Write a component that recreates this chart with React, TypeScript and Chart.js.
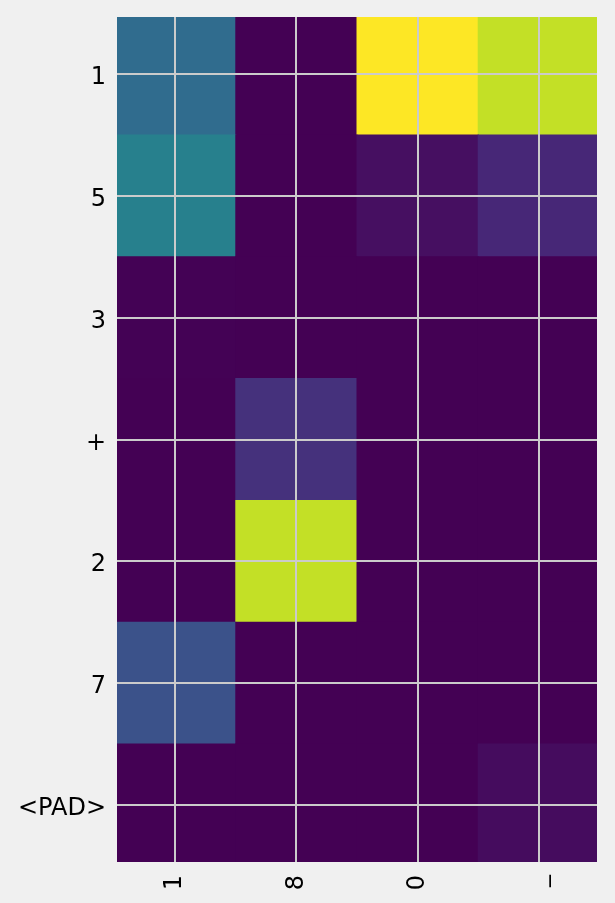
import React, { useEffect, useRef } from "react";
import { Chart, registerables } from "chart.js";

Chart.register(...registerables);

// Row (source) tokens and column (target) tokens
const rowLabels = ["1", "5", "3", "+", "2", "7", "<PAD>"];
const colLabels = ["1", "8", "0", "_"];

// Attention weights, one array per row
const row1 = [0.35, 0.0, 1.0, 0.91];
const row5 = [0.43, 0.0, 0.04, 0.11];
const row3 = [0.004, 0.0, 0.0, 0.0];
const rowPlus = [0.0, 0.14, 0.0, 0.0];
const row2 = [0.0, 0.91, 0.0, 0.0];
const row7 = [0.25, 0.0, 0.0, 0.0];
const rowPad = [0.0, 0.0, 0.0, 0.03];
const weights = [row1, row5, row3, rowPlus, row2, row7, rowPad];

const VIRIDIS = [
  "#440154", "#482475", "#414487", "#355f8d", "#2a788e", "#21918c",
  "#22a884", "#44bf70", "#7ad151", "#bddf26", "#fde725",
];

function hexToRgb(h: string) {
  return [1, 3, 5].map((i) => parseInt(h.slice(i, i + 2), 16));
}

function viridis(t: number) {
  const v = Math.max(0, Math.min(1, t)) * (VIRIDIS.length - 1);
  const i = Math.min(Math.floor(v), VIRIDIS.length - 2);
  const f = v - i;
  const a = hexToRgb(VIRIDIS[i]);
  const b = hexToRgb(VIRIDIS[i + 1]);
  const c = a.map((x, k) => Math.round(x + (b[k] - x) * f));
  return `rgb(${c[0]},${c[1]},${c[2]})`;
}

export default function App() {
  const ref = useRef<HTMLCanvasElement | null>(null);

  useEffect(() => {
    if (!ref.current) return;
    const vmax = Math.max(...weights.flat());
    const vmin = Math.min(...weights.flat());
    const points: any[] = [];
    const colors: string[] = [];
    weights.forEach((row, i) => {
      row.forEach((v, j) => {
        points.push({ x: [j - 0.5, j + 0.5], y: i });
        colors.push(viridis((v - vmin) / (vmax - vmin)));
      });
    });

    const font = { family: "'DejaVu Sans', sans-serif", size: 24 };
    const gridColor = "#cbcbcb";

    const chart = new Chart(ref.current, {
      type: "bar",
      data: {
        datasets: [
          {
            data: points,
            backgroundColor: colors,
            borderWidth: 0,
            barPercentage: 1,
            categoryPercentage: 1,
            inflateAmount: 0.5,
          } as any,
        ],
      },
      options: {
        animation: false,
        responsive: false,
        indexAxis: "y",
        layout: { padding: { left: 0, right: 18, top: 17, bottom: 0 } },
        plugins: { legend: { display: false }, tooltip: { enabled: false } },
        scales: {
          x: {
            type: "linear",
            min: -0.48,
            max: 3.48,
            offset: false,
            border: { display: false },
            grid: { color: gridColor, lineWidth: 2, drawTicks: false, offset: false, z: 1 },
            afterBuildTicks: (s: any) => {
              s.ticks = colLabels.map((_, i) => ({ value: i }));
            },
            afterFit: (s: any) => {
              s.height = 41;
              s.paddingLeft = 0;
              s.paddingRight = 0;
            },
            ticks: {
              autoSkip: false,
              minRotation: 90,
              maxRotation: 90,
              padding: 13,
              color: "#000",
              font,
              callback: (v: any) => colLabels[Math.round(Number(v))] ?? "",
            },
          },
          y: {
            type: "linear",
            min: -0.47,
            max: 6.47,
            reverse: true,
            offset: false,
            border: { display: false },
            grid: { color: gridColor, lineWidth: 2, drawTicks: false, offset: false, z: 1 },
            afterBuildTicks: (s: any) => {
              s.ticks = rowLabels.map((_, i) => ({ value: i }));
            },
            afterFit: (s: any) => {
              s.width = 117;
              s.paddingTop = 0;
              s.paddingBottom = 0;
            },
            ticks: {
              autoSkip: false,
              padding: 11,
              labelOffset: 4,
              color: "#000",
              font,
              callback: (v: any) => rowLabels[Math.round(Number(v))] ?? "",
            },
          },
        },
      },
    });
    return () => chart.destroy();
  }, []);

  return (
    <div
      style={{
        position: "absolute",
        left: 0,
        top: 0,
        width: 615,
        height: 903,
        background: "#f0f0f0",
      }}
    >
      <canvas ref={ref} width={615} height={903} style={{ display: "block" }} />
    </div>
  );
}
